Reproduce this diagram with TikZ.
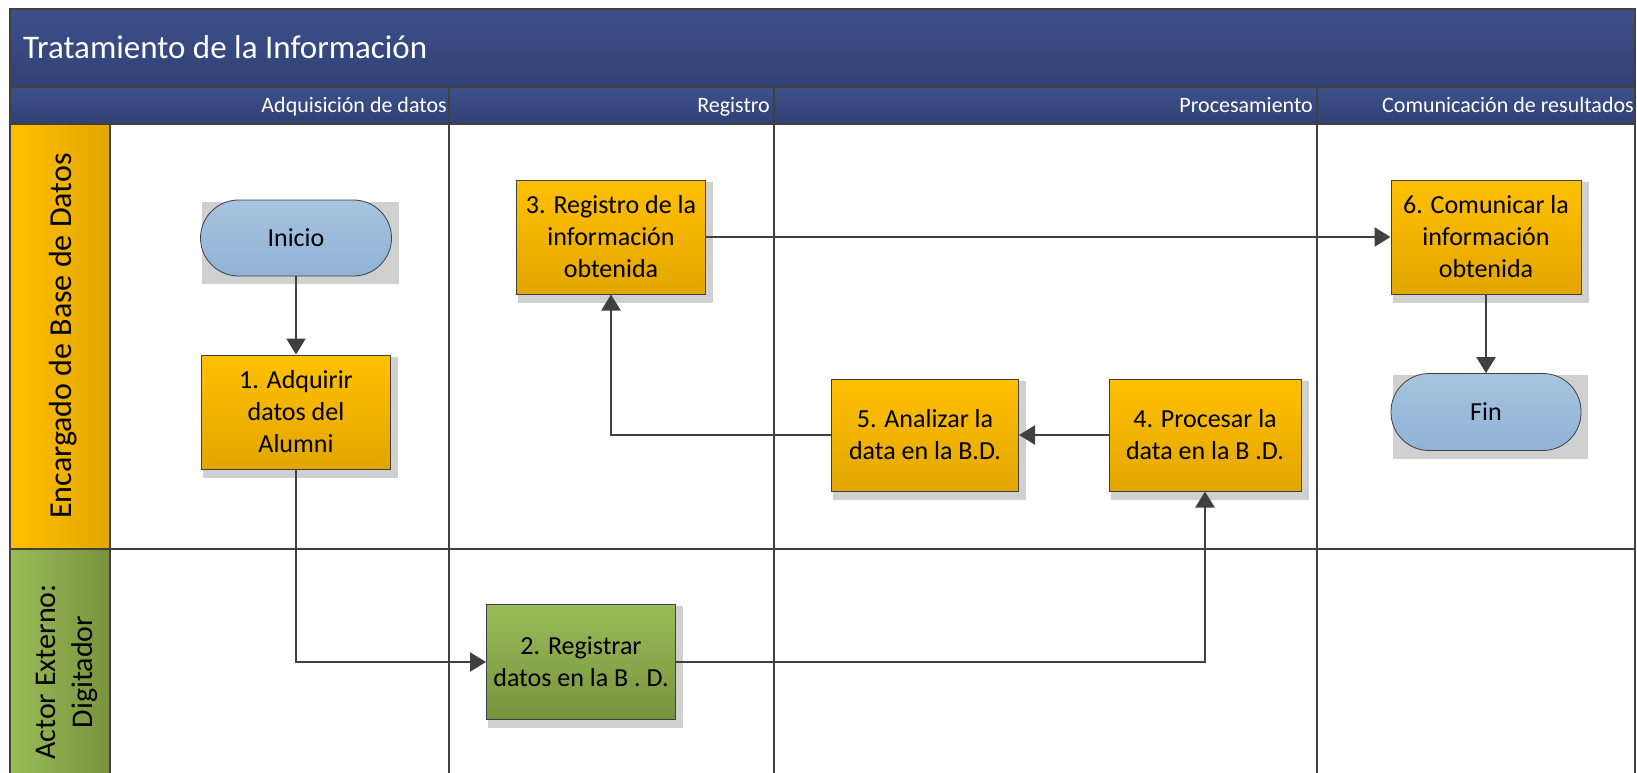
\documentclass[tikz,border=0pt]{standalone}
\usepackage{fontspec}
\setmainfont{Carlito}
\usetikzlibrary{arrows.meta, backgrounds}

\definecolor{bandtop}{RGB}{61,80,138}
\definecolor{bandbot}{RGB}{49,65,117}
\definecolor{gold}{RGB}{255,192,0}
\definecolor{golddark}{RGB}{226,166,0}
\definecolor{olive}{RGB}{155,187,89}
\definecolor{olivedark}{RGB}{119,147,60}
\definecolor{sky}{RGB}{167,196,224}
\definecolor{skydark}{RGB}{143,178,214}
\definecolor{linegray}{RGB}{64,64,64}
\definecolor{shadowgray}{RGB}{208,208,208}

\begin{document}
\begin{tikzpicture}[x = 1pt, y = -1pt,
  task/.style = {draw = linegray, line width = 1pt, top color = gold, bottom color = golddark, minimum width = 189pt, minimum height = 114pt, inner sep = 0pt, align = center, font = \fontsize{26}{32}\selectfont},
  extask/.style = {task, top color = olive, bottom color = olivedark},
  terminal/.style = {draw = linegray, line width = 0.8pt, top color = sky, bottom color = skydark, minimum width = 191pt, minimum height = 76pt, rounded corners = 38pt, inner sep = 0pt, font = \fontsize{26}{32}\selectfont},
  phase/.style = {white, anchor = base east, inner sep = 0pt, font = \fontsize{22}{24}\selectfont},
  flow/.style = {draw = linegray, line width = 2.4pt, -{Triangle[length = 16pt, width = 19pt]}},
  lane/.style = {draw = linegray, line width = 2pt},
  divider/.style = {draw = linegray, line width = 1.2pt}]
\useasboundingbox (0, 0) rectangle (1637, 773);
\fill[top color = bandtop, bottom color = bandbot] (10, 9) rectangle (1635, 87);
\fill[top color = bandtop, bottom color = bandbot] (10, 87) rectangle (1635, 124);
\fill[left color = gold, right color = golddark] (10, 124) rectangle (110, 549);
\fill[left color = olive, right color = olivedark] (10, 549) rectangle (110, 790);
\foreach \x in {449, 774, 1317}
  \draw[divider] (\x, 87) -- (\x, 790);
\draw[lane] (10, 87) -- (1635, 87);
\draw[lane] (10, 124) -- (1635, 124);
\draw[lane] (10, 549) -- (1635, 549);
\draw[lane] (110, 124) -- (110, 790);
\draw[lane] (10, 9) rectangle (1635, 790);

\node[white, anchor = base west, inner sep = 0pt, font = \fontsize{33}{36}\selectfont] (title) at (23, 59) {Tratamiento de la Información};
\node[phase] (adq) at (447, 113) {Adquisición de datos};
\node[phase] (reg) at (770, 113) {Registro};
\node[phase] (proc) at (1313, 113) {Procesamiento};
\node[phase] (com) at (1634, 113) {Comunicación de resultados};
\node[rotate = 90, font = \fontsize{32}{36}\selectfont] (encargado) at (63, 336) {Encargado de Base de Datos};
\node[rotate = 90, align = center, font = \fontsize{30}{37}\selectfont] (actor) at (67, 672) {Actor Externo:\\Digitador};

\node[terminal] (ini) at (296, 238) {Inicio};
\node[task] (a1) at (296, 412) {1. Adquirir\\datos del\\Alumni};
\node[extask, minimum height = 115pt] (a2) at (581, 662) {2. Registrar\\datos en la B . D.};
\node[task] (a3) at (611, 237) {3. Registro de la\\información\\obtenida};
\node[task, minimum width = 192pt, minimum height = 112pt] (a4) at (1205, 435) {4. Procesar la\\data en la B .D.};
\node[task, minimum width = 187pt, minimum height = 112pt] (a5) at (925, 435) {5. Analizar la\\data en la B.D.};
\node[task, minimum width = 190pt] (a6) at (1486, 237) {6. Comunicar la\\información\\obtenida};
\node[terminal, minimum width = 190pt, minimum height = 77pt] (fin) at (1486, 412) {Fin};

\begin{scope}[on background layer]
\foreach \n in {ini, a1, a2, a3, a4, a5, a6, fin}
  \fill[shadowgray] ([shift = {(2, 2)}] \n.north west) rectangle ([shift = {(7, 8)}] \n.south east);
\end{scope}

\draw[flow] (ini) -- (a1);
\draw[flow] (a1) |- (a2);
\draw[flow] (a2) -| (a4);
\draw[flow] (a4) -- (a5);
\draw[flow] (a5) -| (a3);
\draw[flow] (a3) -- (a6);
\draw[flow] (a6) -- (fin);
\end{tikzpicture}
\end{document}
